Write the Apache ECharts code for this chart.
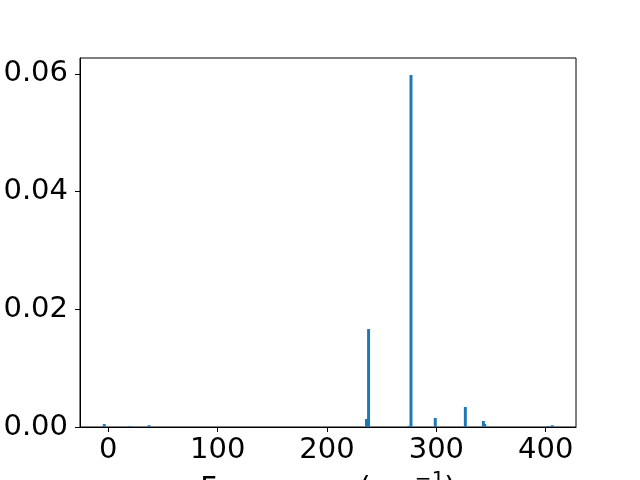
<!DOCTYPE html>
<html>
<head>
<meta charset="utf-8">
<script src="https://cdn.jsdelivr.net/npm/echarts@6/dist/echarts.min.js"></script>
<style>
html,body{margin:0;padding:0;background:#fff;}
#chart{width:640px;height:480px;}
</style>
</head>
<body>
<div id="chart"></div>
<script>
// Data
var frequencies = [-3.7, 19.8, 37.2, 236.1, 238.0, 274.9, 276.8, 299.0, 326.5, 343.0, 344.3, 402.4, 406.0];
var intensities = [0.0005, 0.00017, 0.0003, 0.00136, 0.01664, 0.0002, 0.0598, 0.00153, 0.0034, 0.00102, 0.0005, 0.00017, 0.0003];
var xTicks = [0, 100, 200, 300, 400];
var yTicks = [0.00, 0.02, 0.04, 0.06];
var barWidthUnits = 2.7;

var seriesData = frequencies.map(function (f, i) { return [f, intensities[i]]; });

var chart = echarts.init(document.getElementById('chart'), null, {renderer: 'canvas'});
var font = 'DejaVu Sans';
chart.setOption({
  animation: false,
  backgroundColor: '#ffffff',
  grid: {left: 80, right: 64, top: 58, bottom: 53, show: true, borderColor: '#000', borderWidth: 1, backgroundColor: 'transparent', containLabel: false, outerBoundsMode: 'none'},
  xAxis: {
    type: 'value',
    min: -25.9,
    max: 427.7,
    name: 'Frequency (cm{sup|\u22121})',
    nameLocation: 'middle',
    nameGap: 31,
    nameTextStyle: {
      fontFamily: font, fontSize: 29, color: '#000',
      rich: {sup: {fontFamily: font, fontSize: 20, color: '#000', verticalAlign: 'middle', padding: [0, 0, 19, 0]}}
    },
    axisLine: {show: true, onZero: false, lineStyle: {color: '#000', width: 1}},
    axisTick: {show: true, length: 5, lineStyle: {color: '#000', width: 1}, customValues: xTicks},
    axisLabel: {fontFamily: font, fontSize: 29, color: '#000', margin: 9, customValues: xTicks, formatter: function (v) { return String(v); }},
    splitLine: {show: false}
  },
  yAxis: {
    type: 'value',
    min: 0,
    max: 0.0627,
    axisLine: {show: true, onZero: false, lineStyle: {color: '#000', width: 1}},
    axisTick: {show: true, length: 5, lineStyle: {color: '#000', width: 1}, customValues: yTicks},
    axisLabel: {fontFamily: font, fontSize: 29, color: '#000', margin: 12, customValues: yTicks, formatter: function (v) { return v.toFixed(2); }},
    splitLine: {show: false}
  },
  series: [{
    type: 'custom',
    data: seriesData,
    encode: {x: 0, y: 1},
    clip: true,
    renderItem: function (params, api) {
      var x = api.value(0), y = api.value(1);
      var p1 = api.coord([x - barWidthUnits / 2, y]);
      var p2 = api.coord([x + barWidthUnits / 2, 0]);
      return {
        type: 'rect',
        shape: {x: p1[0], y: p1[1], width: p2[0] - p1[0], height: p2[1] - p1[1]},
        style: {fill: '#1f77b4'}
      };
    }
  }]
});
</script>
</body>
</html>
